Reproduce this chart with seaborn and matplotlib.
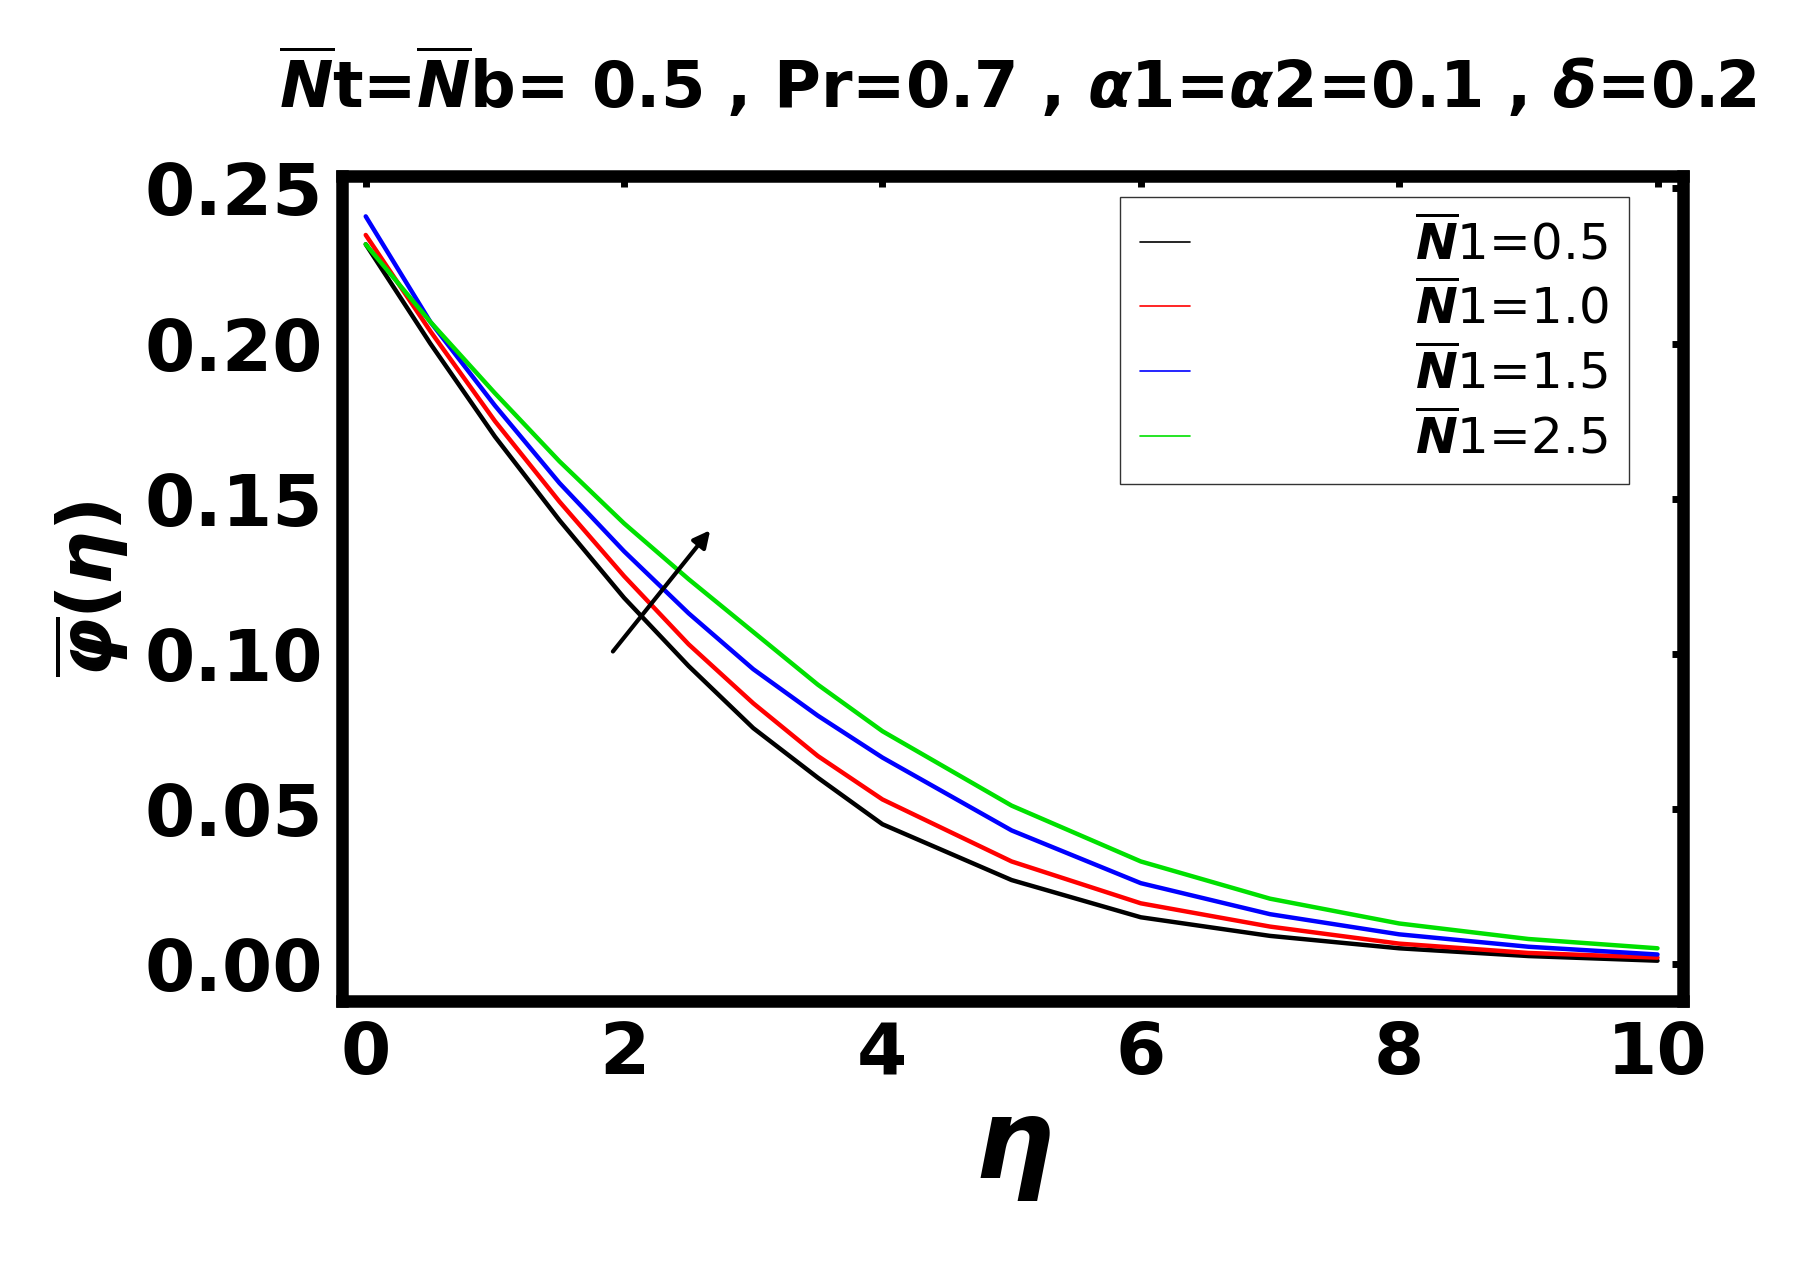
import matplotlib
matplotlib.use("Agg")
import matplotlib.pyplot as plt
import seaborn as sns
import pandas as pd

sns.set_theme(style="white")
plt.rcParams['font.family'] = ['DejaVu Sans']
plt.rcParams['mathtext.fontset'] = 'custom'
plt.rcParams['mathtext.it'] = 'DejaVu Sans:bold:italic'
plt.rcParams['mathtext.rm'] = 'DejaVu Sans:bold'
plt.rcParams['text.color'] = 'black'
plt.rcParams['axes.labelcolor'] = 'black'
plt.rcParams['xtick.color'] = 'black'
plt.rcParams['ytick.color'] = 'black'

eta = [0, 0.5, 1, 1.5, 2, 2.5, 3, 3.5, 4, 5, 6, 7, 8, 9, 10]
phi_05 = [0.232, 0.200, 0.170, 0.143, 0.118, 0.096, 0.076, 0.060, 0.045, 0.027, 0.015, 0.009, 0.005, 0.0025, 0.001]
phi_10 = [0.235, 0.204, 0.175, 0.149, 0.125, 0.103, 0.084, 0.067, 0.053, 0.033, 0.0195, 0.012, 0.0065, 0.0035, 0.002]
phi_15 = [0.241, 0.207, 0.180, 0.155, 0.133, 0.113, 0.095, 0.080, 0.0665, 0.043, 0.026, 0.016, 0.0095, 0.0055, 0.003]
phi_25 = [0.232, 0.207, 0.184, 0.162, 0.142, 0.124, 0.107, 0.090, 0.075, 0.051, 0.033, 0.021, 0.013, 0.008, 0.005]
labels = [r"$\overline{N}$1=0.5", r"$\overline{N}$1=1.0", r"$\overline{N}$1=1.5", r"$\overline{N}$1=2.5"]
colors = ["black", "red", "blue", "#00e000"]

rows = []
for lab, vals in zip(labels, [phi_05, phi_10, phi_15, phi_25]):
    for e, v in zip(eta, vals):
        rows.append({"eta": e, "phi": v, "case": lab})
df = pd.DataFrame(rows)

fig = plt.figure(figsize=(18.12, 12.85), dpi=100)
ax = fig.add_axes([0.189, 0.221, 0.74, 0.642])
sns.lineplot(data=df, x="eta", y="phi", hue="case", palette=colors, linewidth=3.2, ax=ax)

ax.set_xlim(-0.18, 10.2)
ax.set_ylim(-0.012, 0.254)
ax.set_xticks([0, 2, 4, 6, 8, 10])
ax.set_yticks([0.0, 0.05, 0.10, 0.15, 0.20, 0.25])
ax.set_yticklabels(["0.00", "0.05", "0.10", "0.15", "0.20", "0.25"])
ax.tick_params(direction="in", length=8, width=5, top=True, right=True, labelsize=52, pad=14)
for t in ax.get_xticklabels() + ax.get_yticklabels():
    t.set_fontweight("bold")
for s in ax.spines.values():
    s.set_linewidth(9)
    s.set_color("black")

ax.set_xlabel(r"$\eta$", fontsize=80, labelpad=5)
ax.set_ylabel(r"$\overline{\varphi}(\eta)$", fontsize=54, labelpad=10)
fig.text(0.562, 0.935, r"$\overline{N}$t=$\overline{N}$b= 0.5 , Pr=0.7 , $\alpha$1=$\alpha$2=0.1 , $\delta$=0.2",
         fontsize=46, fontweight="bold", ha="center", va="center")

ax.annotate("", xy=(2.68, 0.1405), xytext=(1.9, 0.100),
            arrowprops=dict(arrowstyle="-|>", color="black", lw=3, mutation_scale=25))

leg = ax.legend(loc="upper left", bbox_to_anchor=(0.58, 0.975), fontsize=36, frameon=True,
                fancybox=False, edgecolor="black", handlelength=1.0, handletextpad=4.5,
                borderpad=0.4, labelspacing=0.25, borderaxespad=0)
leg.get_frame().set_linewidth(1)
for line in leg.get_lines():
    line.set_linewidth(1.2)

fig.savefig("out.png", dpi=100)
